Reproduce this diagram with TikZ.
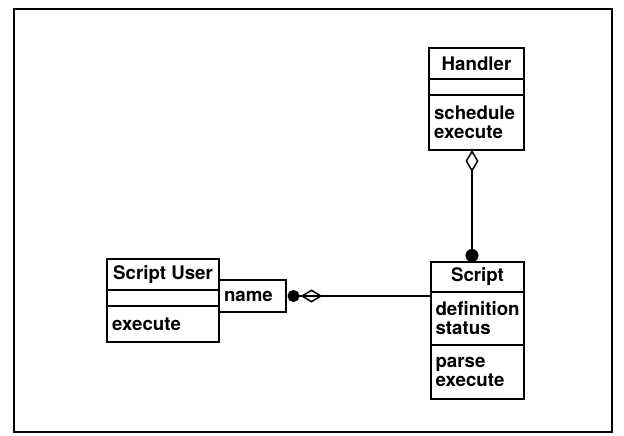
\documentclass[tikz,border=0pt]{standalone}
\usepackage{fontspec}
\setmainfont{TeX Gyre Heros}
\usetikzlibrary{arrows.meta}
\usetikzlibrary{calc}

\tikzset{
  box/.style={draw, line width=1.5pt, anchor=north west, inner sep=0pt, outer sep=0pt,
    font=\fontsize{18.7}{19}\selectfont\bfseries},
  titlebox/.style={box, align=center, minimum width=#1},
  listbox/.style={box, align=left, text width=#1pt, inner xsep=5pt},
  assoc/.style={line width=1.5pt},
}

\begin{document}
\begin{tikzpicture}[x=1pt,y=1pt,yscale=-1,xscale=1]

\useasboundingbox (0,0) rectangle (624,436);
% frame
\draw[line width=1.5pt] (14,9) rectangle (612,432);

% Handler
\node[titlebox=95, minimum height=31] (hname) at (429,48) {Handler};
\node[titlebox=95, minimum height=16] (hattr) at (hname.south west) {};
\node[listbox=85, minimum height=55] (hops) at (hattr.south west) {schedule\\execute};

% Script
\node[titlebox=93, minimum height=30] (sname) at (431,262) {Script};
\node[listbox=84, inner xsep=4.5pt, minimum height=53] (sattr) at (sname.south west) {definition\\status};
\node[listbox=84, inner xsep=4.5pt, minimum height=54] (sops) at (sattr.south west) {parse\\execute};

% Script User
\node[titlebox=112, minimum height=31] (uname) at (107,259) {Script User};
\node[titlebox=112, minimum height=16] (uattr) at (uname.south west) {};
\node[listbox=102, minimum height=36] (uops) at (uattr.south west) {execute};
\node[listbox=57, minimum height=32] (qual) at (219,280) {name};

% Handler -- Script
\coordinate (hfoot) at ($(hops.south)+(-4.5,0)$);
\draw[assoc, {Diamond[open,length=22pt,width=13pt]}-{Circle[length=13pt]}] (hfoot) -- (hfoot |- sname.north);

% Script User -- Script
\draw[assoc, -{Diamond[open,length=22pt,width=13pt,sep=1pt] Circle[length=12pt]}] (qual.east -| sattr.west) -- ($(qual.east)+(1.5,0)$);

\end{tikzpicture}
\end{document}
